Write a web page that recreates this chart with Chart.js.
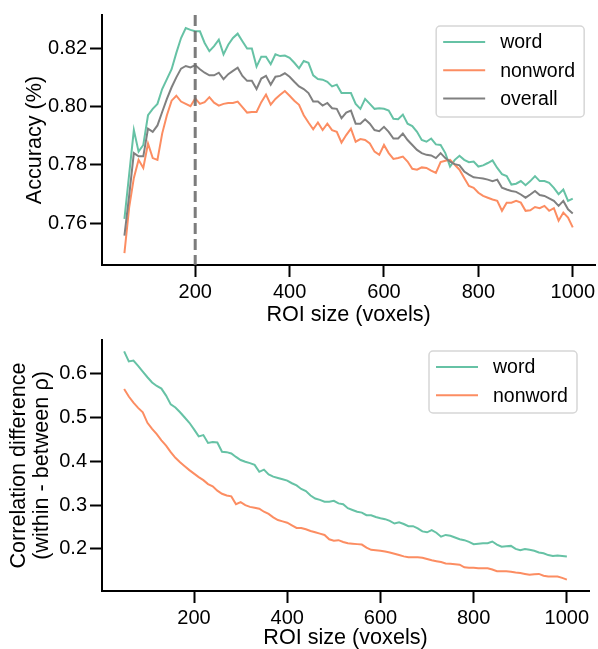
<!DOCTYPE html>
<html lang="en">
<head>
  <meta charset="UTF-8" />
  <title>ROI size</title>
  <script src="https://cdn.jsdelivr.net/npm/chart.js"></script>
  <style>
    body { margin: 0; background: #fff; overflow: hidden; }
    canvas { position: absolute; left: 0; }
  </style>
</head>
<body>

  <canvas id="accChart" width="598" height="328" style="top:0"></canvas>
  <canvas id="corrChart" width="598" height="326" style="top:325px"></canvas>

  <script>
    // ROI sizes (voxels)
    const roiSizes = [50, 60, 70, 80, 90, 100, 110, 120, 130, 140, 150, 160, 170, 180, 190, 200, 210, 220, 230, 240,
      250, 260, 270, 280, 290, 300, 310, 320, 330, 340, 350, 360, 370, 380, 390, 400, 410, 420, 430, 440,
      450, 460, 470, 480, 490, 500, 510, 520, 530, 540, 550, 560, 570, 580, 590, 600, 610, 620, 630, 640,
      650, 660, 670, 680, 690, 700, 710, 720, 730, 740, 750, 760, 770, 780, 790, 800, 810, 820, 830, 840,
      850, 860, 870, 880, 890, 900, 910, 920, 930, 940, 950, 960, 970, 980, 990, 1000];

    // top panel : accuracy
    const accWord = [0.7614, 0.7766, 0.7919, 0.7845, 0.7868, 0.7970, 0.7992, 0.8009, 0.8060, 0.8094,
      0.8128, 0.8184, 0.8235, 0.8269, 0.8263, 0.8258, 0.8258, 0.8218, 0.8190, 0.8207,
      0.8229, 0.8179, 0.8212, 0.8235, 0.8250, 0.8224, 0.8199, 0.8199, 0.8137, 0.8171,
      0.8171, 0.8145, 0.8179, 0.8173, 0.8175, 0.8167, 0.8150, 0.8131, 0.8156, 0.8150,
      0.8107, 0.8094, 0.8092, 0.8085, 0.8069, 0.8075, 0.8046, 0.8046, 0.8046, 0.8009,
      0.7992, 0.8026, 0.8009, 0.7992, 0.7994, 0.7992, 0.7986, 0.7958, 0.7956, 0.7972,
      0.7941, 0.7933, 0.7913, 0.7885, 0.7879, 0.7890, 0.7870, 0.7868, 0.7840, 0.7794,
      0.7817, 0.7831, 0.7817, 0.7809, 0.7811, 0.7794, 0.7798, 0.7806, 0.7815, 0.7789,
      0.7768, 0.7761, 0.7732, 0.7735, 0.7744, 0.7730, 0.7744, 0.7761, 0.7744, 0.7744,
      0.7738, 0.7721, 0.7699, 0.7715, 0.7676, 0.7684];
    const accNonword = [0.7497, 0.7653, 0.7755, 0.7817, 0.7789, 0.7873, 0.7823, 0.7817, 0.7907, 0.7970,
      0.8020, 0.8037, 0.8017, 0.8009, 0.8001, 0.8028, 0.8009, 0.8015, 0.8032, 0.8013,
      0.8003, 0.8009, 0.8012, 0.8012, 0.8017, 0.7998, 0.7979, 0.7981, 0.7981, 0.8015,
      0.8041, 0.8006, 0.8026, 0.8040, 0.8053, 0.8037, 0.8020, 0.8006, 0.7970, 0.7945,
      0.7922, 0.7945, 0.7919, 0.7941, 0.7919, 0.7913, 0.7876, 0.7902, 0.7924, 0.7879,
      0.7888, 0.7885, 0.7873, 0.7845, 0.7834, 0.7868, 0.7840, 0.7820, 0.7823, 0.7828,
      0.7811, 0.7786, 0.7783, 0.7791, 0.7789, 0.7780, 0.7772, 0.7809, 0.7814, 0.7817,
      0.7800, 0.7783, 0.7755, 0.7727, 0.7721, 0.7704, 0.7693, 0.7687, 0.7681, 0.7676,
      0.7642, 0.7670, 0.7670, 0.7676, 0.7670, 0.7642, 0.7644, 0.7655, 0.7651, 0.7659,
      0.7642, 0.7651, 0.7608, 0.7636, 0.7619, 0.7585];
    const accOverall = [0.7557, 0.7693, 0.7840, 0.7829, 0.7829, 0.7924, 0.7913, 0.7935, 0.7981, 0.8026,
      0.8066, 0.8100, 0.8130, 0.8139, 0.8134, 0.8142, 0.8128, 0.8116, 0.8107, 0.8107,
      0.8116, 0.8094, 0.8111, 0.8122, 0.8133, 0.8105, 0.8088, 0.8088, 0.8060, 0.8096,
      0.8105, 0.8075, 0.8102, 0.8105, 0.8114, 0.8102, 0.8085, 0.8069, 0.8060, 0.8046,
      0.8017, 0.8017, 0.8003, 0.8012, 0.7994, 0.7992, 0.7960, 0.7979, 0.7986, 0.7941,
      0.7941, 0.7956, 0.7941, 0.7919, 0.7915, 0.7930, 0.7913, 0.7890, 0.7890, 0.7907,
      0.7885, 0.7868, 0.7851, 0.7840, 0.7834, 0.7832, 0.7823, 0.7840, 0.7823, 0.7811,
      0.7802, 0.7798, 0.7777, 0.7766, 0.7757, 0.7755, 0.7753, 0.7749, 0.7744, 0.7749,
      0.7721, 0.7715, 0.7710, 0.7707, 0.7698, 0.7687, 0.7698, 0.7710, 0.7696, 0.7693,
      0.7685, 0.7676, 0.7659, 0.7676, 0.7647, 0.7633];

    // bottom panel : correlation difference
    const corrWord = [0.651, 0.628, 0.630, 0.618, 0.605, 0.592, 0.580, 0.572, 0.566, 0.550,
      0.530, 0.523, 0.512, 0.500, 0.488, 0.473, 0.457, 0.460, 0.442, 0.444,
      0.443, 0.422, 0.421, 0.418, 0.410, 0.403, 0.399, 0.396, 0.392, 0.376,
      0.381, 0.370, 0.365, 0.362, 0.359, 0.356, 0.350, 0.345, 0.337, 0.332,
      0.322, 0.315, 0.312, 0.308, 0.308, 0.310, 0.304, 0.302, 0.293, 0.289,
      0.285, 0.283, 0.277, 0.277, 0.273, 0.270, 0.268, 0.264, 0.258, 0.261,
      0.257, 0.252, 0.252, 0.247, 0.240, 0.238, 0.243, 0.237, 0.228, 0.232,
      0.230, 0.226, 0.222, 0.220, 0.216, 0.211, 0.212, 0.213, 0.213, 0.217,
      0.210, 0.205, 0.206, 0.207, 0.200, 0.197, 0.200, 0.198, 0.196, 0.192,
      0.190, 0.186, 0.184, 0.185, 0.184, 0.183];
    const corrNonword = [0.565, 0.548, 0.534, 0.522, 0.512, 0.488, 0.474, 0.462, 0.448, 0.436,
      0.421, 0.408, 0.398, 0.389, 0.380, 0.372, 0.364, 0.357, 0.348, 0.343,
      0.333, 0.326, 0.322, 0.320, 0.302, 0.307, 0.300, 0.296, 0.294, 0.292,
      0.285, 0.280, 0.272, 0.266, 0.263, 0.260, 0.254, 0.248, 0.248, 0.245,
      0.241, 0.238, 0.235, 0.232, 0.222, 0.219, 0.220, 0.216, 0.213, 0.212,
      0.211, 0.210, 0.203, 0.198, 0.197, 0.196, 0.194, 0.192, 0.189, 0.186,
      0.183, 0.181, 0.181, 0.181, 0.180, 0.177, 0.174, 0.172, 0.170, 0.167,
      0.166, 0.165, 0.164, 0.158, 0.157, 0.157, 0.156, 0.156, 0.156, 0.153,
      0.149, 0.149, 0.149, 0.148, 0.146, 0.145, 0.143, 0.141, 0.142, 0.143,
      0.139, 0.137, 0.137, 0.137, 0.134, 0.130];

    const xTicks = [200, 400, 600, 800, 1000];
    const accTicks = [0.76, 0.78, 0.80, 0.82];
    const corrTicks = [0.2, 0.3, 0.4, 0.5, 0.6];
    const chosenSize = 200;

    const GREEN = '#66c2a5', ORANGE = '#fc8d62', GREY = '#808080';
    const FAMILY = '"Liberation Sans", Arial, sans-serif';
    const TICK_FONT = { family: FAMILY, size: 20 };
    const LABEL_FONT = { family: FAMILY, size: 21.6 };
    const LEGEND_SIZE = 19.5;

    const pts = ys => roiSizes.map((x, i) => ({ x: x, y: ys[i] }));
    const line = (label, ys, color, order) => ({
      label, data: pts(ys), borderColor: color, borderWidth: 2,
      pointRadius: 0, tension: 0, fill: false, order
    });

    // matplotlib style legend box, drawn inside the axes
    function boxLegend(items, fromRight, fromTop, w, h) {
      return {
        id: 'boxLegend',
        afterDraw(chart) {
          const { ctx, chartArea } = chart;
          const x0 = chartArea.right - fromRight - w, y0 = chartArea.top + fromTop, r = 4;
          ctx.save();
          ctx.beginPath();
          ctx.moveTo(x0 + r, y0);
          ctx.arcTo(x0 + w, y0, x0 + w, y0 + h, r);
          ctx.arcTo(x0 + w, y0 + h, x0, y0 + h, r);
          ctx.arcTo(x0, y0 + h, x0, y0, r);
          ctx.arcTo(x0, y0, x0 + w, y0, r);
          ctx.closePath();
          ctx.fillStyle = 'rgba(255,255,255,0.8)';
          ctx.fill();
          ctx.strokeStyle = '#d6d6d6';
          ctx.lineWidth = 1.5;
          ctx.stroke();
          ctx.font = LEGEND_SIZE + 'px ' + FAMILY;
          ctx.textBaseline = 'middle';
          ctx.fillStyle = '#000';
          items.forEach((it, i) => {
            const y = y0 + 16 + i * 28.3;
            ctx.strokeStyle = it.color;
            ctx.lineWidth = 2;
            ctx.beginPath();
            ctx.moveTo(x0 + 7, y);
            ctx.lineTo(x0 + 49, y);
            ctx.stroke();
            ctx.fillText(it.label, x0 + 64, y + 1);
          });
          ctx.restore();
        }
      };
    }

    const vline = {
      id: 'vline',
      afterDatasetsDraw(chart) {
        const { ctx, chartArea, scales } = chart;
        const x = scales.x.getPixelForValue(chosenSize);
        ctx.save();
        ctx.strokeStyle = 'rgba(110,110,110,0.9)';
        ctx.lineWidth = 3;
        ctx.setLineDash([11, 5]);
        ctx.beginPath();
        ctx.moveTo(x, chartArea.top);
        ctx.lineTo(x, chartArea.bottom);
        ctx.stroke();
        ctx.restore();
      }
    };

    function axis(ticks, fmt, extra) {
      return Object.assign({
        type: 'linear',
        afterBuildTicks: s => { s.ticks = ticks.map(v => ({ value: v })); },
        border: { display: true, color: '#000', width: 2 },
        grid: { display: true, drawOnChartArea: false, drawTicks: true, tickLength: 12, tickWidth: 2, tickColor: '#000' },
        ticks: { color: '#000', font: TICK_FONT, padding: 3, maxRotation: 0, callback: fmt }
      }, extra);
    }

    function options(o) {
      return {
        responsive: false,
        animation: false,
        events: [],
        layout: { padding: { top: o.top, right: o.rightPad, left: 0, bottom: 0 } },
        plugins: { legend: { display: false }, tooltip: { enabled: false } },
        scales: {
          x: axis(xTicks, v => String(v), {
            min: 2.5, max: 1047.5,
            afterFit: s => { s.height = o.xHeight; },
            title: { display: true, text: 'ROI size (voxels)', color: '#000', font: LABEL_FONT, padding: { top: 0, bottom: 0 } }
          }),
          y: axis(o.yTicks, v => v.toFixed(o.digits), {
            min: o.yMin, max: o.yMax,
            afterFit: s => { s.width = 102; },
            title: {
              display: true, text: o.yTitle, color: '#000',
              font: Object.assign({ lineHeight: 1.02 }, LABEL_FONT),
              padding: { top: o.yTitlePad, bottom: 0 }
            }
          })
        }
      };
    }

    new Chart(document.getElementById('accChart'), {
      type: 'line',
      data: {
        datasets: [
          line('word', accWord, GREEN, 3),
          line('nonword', accNonword, ORANGE, 2),
          line('overall', accOverall, GREY, 1)
        ]
      },
      options: options({
        top: 13, yMin: 0.7456, yMax: 0.8314, yTicks: accTicks, digits: 2, yTitle: 'Accuracy (%)',
        yTitlePad: 24, rightPad: 0, xHeight: 63
      }),
      plugins: [vline, boxLegend([
        { label: 'word', color: GREEN },
        { label: 'nonword', color: ORANGE },
        { label: 'overall', color: GREY }
      ], 11, 11, 148, 91)]
    });

    new Chart(document.getElementById('corrChart'), {
      type: 'line',
      data: {
        datasets: [
          line('word', corrWord, GREEN, 2),
          line('nonword', corrNonword, ORANGE, 1)
        ]
      },
      options: options({
        top: 14, yMin: 0.104, yMax: 0.677, yTicks: corrTicks, digits: 1,
        yTitle: ['Correlation difference', '(within - between ρ)'],
        yTitlePad: 8.5, rightPad: 9, xHeight: 60
      }),
      plugins: [boxLegend([
        { label: 'word', color: GREEN },
        { label: 'nonword', color: ORANGE }
      ], 12, 11, 148, 62)]
    });
  </script>

</body>
</html>
